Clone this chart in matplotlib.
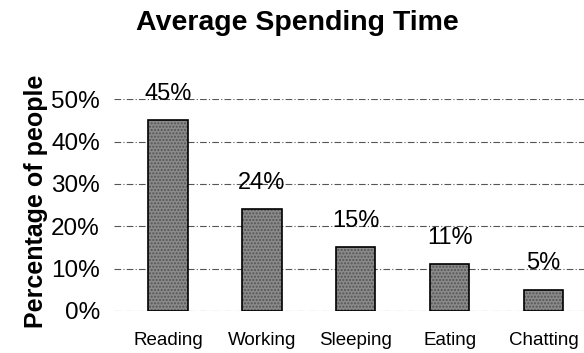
import matplotlib.pyplot as plt
import numpy as np

activities = ["Reading", "Working", "Sleeping", "Eating", "Chatting"]
shares = [45, 24, 15, 11, 5]
y_ticks = [0, 10, 20, 30, 40, 50]

plt.rcParams['font.family'] = ['Liberation Sans', 'DejaVu Sans']

fig = plt.figure(figsize=(5.84, 3.53), dpi=100)
ax = fig.add_axes([0.195, 0.119, 0.805, 0.60])

x = np.arange(len(activities))
ax.set_axisbelow(True)
ax.yaxis.grid(True, color='#555555', linestyle=(0, (6, 2, 1, 2)), linewidth=0.8)
bars = ax.bar(x, shares, width=0.42, color='#8a8a8a', edgecolor='black',
              linewidth=1.2, hatch='.....')
for b in bars:
    b._hatch_color = (0.33, 0.33, 0.33, 1.0)

# value labels above each bar
for xi, v in zip(x, shares):
    ax.annotate(f"{v}%", (xi, v), xytext=(0, 19), textcoords='offset points',
                ha='center', va='center', fontsize=17, clip_on=False)

ax.set_xlim(-0.575, 4.43)
ax.set_ylim(0, 50)
ax.set_yticks(y_ticks)
ax.set_yticklabels([f"{t}%" for t in y_ticks], fontsize=17.5)
ax.set_xticks(x)
ax.set_xticklabels(activities, fontsize=13.5)
ax.tick_params(length=0)
ax.tick_params(axis='y', pad=10)
ax.tick_params(axis='x', pad=15)
for s in ax.spines.values():
    s.set_visible(False)

fig.text(0.062, 0.43, "Percentage of people", rotation=90, ha='center', va='center',
         fontsize=18, fontweight='bold')
fig.text(0.51, 0.915, "Average Spending Time", ha='center', va='baseline',
         fontsize=20.5, fontweight='bold')

fig.savefig("out.png", dpi=100)
